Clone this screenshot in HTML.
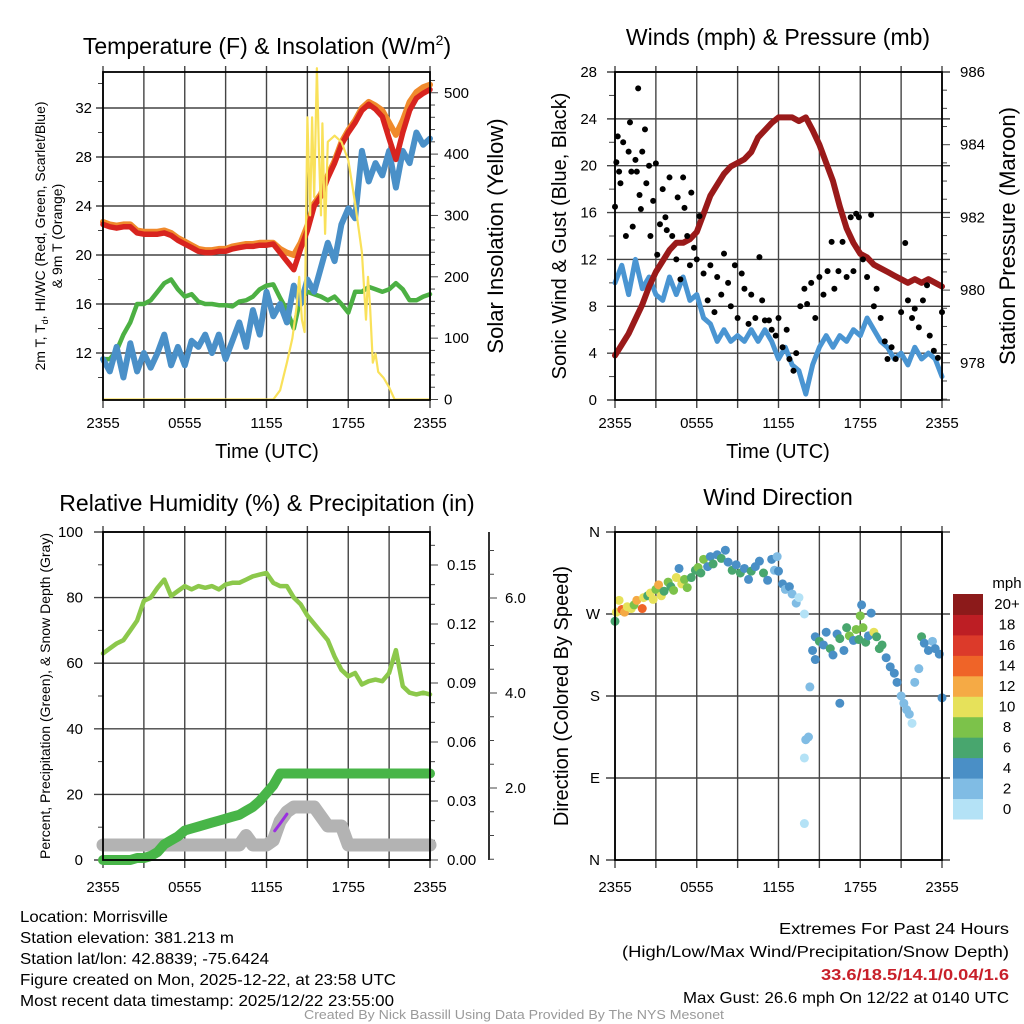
<!DOCTYPE html>
<html><head><meta charset="utf-8"><style>
html,body{margin:0;padding:0;background:#fff;}
svg{display:block;font-family:"Liberation Sans",sans-serif;}
</style></head><body>
<svg id="chart" width="1024" height="1024" viewBox="0 0 1024 1024">
<rect x="0" y="0" width="1024" height="1024" fill="#fff"/>
<text x="267" y="54" font-size="23" text-anchor="middle">Temperature (F) &amp; Insolation (W/m<tspan font-size="14" dy="-9">2</tspan><tspan dy="9">)</tspan></text>
<text x="778" y="45" font-size="23" text-anchor="middle">Winds (mph) &amp; Pressure (mb)</text>
<text x="267" y="511" font-size="23" text-anchor="middle">Relative Humidity (%) &amp; Precipitation (in)</text>
<text x="778" y="505" font-size="23" text-anchor="middle">Wind Direction</text>
<text x="267" y="458" font-size="20" text-anchor="middle">Time (UTC)</text>
<text x="778" y="458" font-size="20" text-anchor="middle">Time (UTC)</text>
<text transform="translate(45,236) rotate(-90)" font-size="14" text-anchor="middle">2m T, T<tspan font-size="9" dy="3">d</tspan><tspan dy="-3">, HI/WC (Red, Green, Scarlet/Blue)</tspan></text>
<text transform="translate(62,236) rotate(-90)" font-size="14" text-anchor="middle">&amp; 9m T (Orange)</text>
<text transform="translate(503,236) rotate(-90)" font-size="22" text-anchor="middle">Solar Insolation (Yellow)</text>
<text transform="translate(566,236) rotate(-90)" font-size="20" text-anchor="middle">Sonic Wind &amp; Gust (Blue, Black)</text>
<text transform="translate(1015,236) rotate(-90)" font-size="22" text-anchor="middle">Station Pressure (Maroon)</text>
<text transform="translate(50,696) rotate(-90)" font-size="14" text-anchor="middle">Percent, Precipitation (Green), &amp; Snow Depth (Gray)</text>
<text transform="translate(568,696) rotate(-90)" font-size="20" text-anchor="middle">Direction (Colored By Speed)</text>
<g font-size="16">
<text x="20" y="922" textLength="148" lengthAdjust="spacingAndGlyphs">Location: Morrisville</text>
<text x="20" y="943" textLength="214" lengthAdjust="spacingAndGlyphs">Station elevation: 381.213 m</text>
<text x="20" y="964" textLength="249" lengthAdjust="spacingAndGlyphs">Station lat/lon: 42.8839; -75.6424</text>
<text x="20" y="985" textLength="376" lengthAdjust="spacingAndGlyphs">Figure created on Mon, 2025-12-22, at 23:58 UTC</text>
<text x="20" y="1006" textLength="374" lengthAdjust="spacingAndGlyphs">Most recent data timestamp: 2025/12/22 23:55:00</text>
</g>
<g font-size="16">
<text x="779" y="934" textLength="230" lengthAdjust="spacingAndGlyphs">Extremes For Past 24 Hours</text>
<text x="622" y="957" textLength="387" lengthAdjust="spacingAndGlyphs">(High/Low/Max Wind/Precipitation/Snow Depth)</text>
<text x="821" y="980" textLength="188" lengthAdjust="spacingAndGlyphs" fill="#c8202a" font-weight="bold">33.6/18.5/14.1/0.04/1.6</text>
<text x="683" y="1003" textLength="326" lengthAdjust="spacingAndGlyphs">Max Gust: 26.6 mph On 12/22 at 0140 UTC</text>
</g>
<text x="304" y="1019" font-size="12.5" fill="#9a9a9a" textLength="420" lengthAdjust="spacingAndGlyphs">Created By Nick Bassill Using Data Provided By The NYS Mesonet</text>
</svg>
<script>
const halfHours=[0,0.5,1,1.5,2,2.5,3,3.5,4,4.5,5,5.5,6,6.5,7,7.5,8,8.5,9,9.5,10,10.5,11,11.5,12,12.5,13,13.5,14,14.5,15,15.5,16,16.5,17,17.5,18,18.5,19,19.5,20,20.5,21,21.5,22,22.5,23,23.5,24];
const tickHours=[0,6,12,18,24];
const tickLabels=["2355","0555","1155","1755","2355"];
const temp2m=[22.5,22.3,22.2,22.3,22.3,21.8,21.7,21.7,21.7,21.8,21.6,21.2,20.9,20.6,20.3,20.2,20.2,20.3,20.3,20.5,20.6,20.7,20.7,20.8,20.8,20.9,20.2,19.5,18.8,20.5,22.0,24.0,24.8,26.3,27.5,29.0,30.0,30.8,31.8,32.3,31.9,31.3,29.5,27.8,30.0,31.8,32.8,33.2,33.5];
const temp9m=[22.7,22.5,22.4,22.5,22.5,22.0,21.9,21.9,21.9,22.0,21.8,21.4,21.1,20.8,20.5,20.4,20.4,20.5,20.5,20.7,20.8,20.9,20.9,21.0,21.0,21.0,20.5,20.2,20.0,21.0,22.4,24.2,25.0,26.5,27.7,29.2,30.2,31.0,32.0,32.5,32.2,31.8,30.8,29.8,31.0,32.5,33.3,33.7,33.9];
const dewpoint=[11.5,11.5,12.2,13.5,14.5,16.0,16.0,16.3,17.0,17.7,18.0,17.2,16.6,16.8,16.2,16.0,16.0,15.9,15.9,15.8,16.2,16.3,16.6,17.2,17.5,17.6,16.5,15.5,14.0,16.5,17.0,16.8,16.6,16.3,16.6,16.0,15.3,17.0,17.0,17.4,17.2,17.0,17.2,17.7,17.2,16.3,16.3,16.6,16.8];
const windChill=[11.5,10.5,12.5,10.0,12.8,10.5,12.0,10.8,12.0,13.5,11.0,12.5,11.0,13.0,12.5,13.5,12.0,13.5,11.5,13.0,14.5,12.5,15.5,13.5,17.0,15.0,16.0,14.5,17.5,16.0,18.0,17.0,19.0,21.0,19.5,22.5,23.8,23.0,28.5,26.0,27.5,26.5,28.5,25.5,28.5,27.5,30.0,29.0,29.5];
const solarHours=[0,12.5,13.0,13.5,13.9,14.2,14.4,14.6,14.8,15.0,15.2,15.35,15.5,15.7,15.85,16.0,16.1,16.3,16.5,17.0,17.5,18.0,18.5,19.0,19.3,19.45,19.6,19.8,20.0,20.2,20.6,21.0,21.4,24];
const solarVals=[0,0,15,60,100,150,200,130,110,460,300,460,330,540,400,300,450,270,420,430,420,390,320,240,130,200,150,60,75,45,35,20,0,0];
const windSpeed=[10,11.5,9,12,9.5,10.5,9,8.5,10.5,9,10.5,8.5,9,7,6.5,5,6,5,5.5,5,6,5,6,5,3.5,4.5,3,2.5,0.5,3,4.5,5.5,4.5,5.5,5,6,5.5,7,6,5,4.5,3.5,4,3,4.5,3.5,4,3.5,2];
const pressure=[978.2,978.5,978.8,979.2,979.6,980.1,980.5,980.8,981.1,981.3,981.3,981.4,981.6,982.1,982.6,982.9,983.2,983.4,983.5,983.6,983.8,984.2,984.4,984.6,984.75,984.75,984.75,984.65,984.75,984.4,984.0,983.5,983.0,982.3,981.7,981.3,981.0,980.9,980.7,980.6,980.5,980.4,980.3,980.2,980.3,980.2,980.3,980.2,980.1];
const gustHours=[0,0.1,0.2,0.3,0.4,0.6,0.8,1.0,1.1,1.2,1.3,1.5,1.6,1.7,1.8,1.9,2.0,2.2,2.3,2.5,2.6,2.8,3.0,3.1,3.3,3.5,3.7,3.8,4.0,4.2,4.5,4.6,4.8,5.0,5.1,5.3,5.5,5.6,5.8,6.0,6.2,6.5,6.8,7.0,7.3,7.5,7.8,8.0,8.3,8.5,8.8,9.0,9.3,9.5,9.8,10,10.3,10.6,10.8,11,11.3,11.5,11.8,12,12.3,12.6,12.8,13.1,13.3,13.6,13.9,14.1,14.4,14.7,15,15.3,15.6,15.9,16.1,16.4,16.7,17,17.3,17.5,17.7,17.9,18.2,18.5,18.8,19,19.2,19.5,19.8,20.0,20.3,20.6,21,21.3,21.5,21.8,22,22.3,22.6,22.9,23.1,23.4,23.7,24];
const gustVals=[16.5,20.3,22.5,19.5,18.5,22,14,21.2,23.7,19.5,14.8,20.5,19.5,26.6,17.5,16.3,21.2,23.1,18.5,20,14,17,20.2,12.4,15,18,15.6,14.5,19,14,12,17.3,10.3,19,16.4,14,11.5,17.7,13,12,15.7,10.8,8.5,11.5,7.5,10.5,9,12.5,10,8,11.5,7,10.8,9.5,6.5,9,7,12.2,8.5,6.8,6.8,6,5.5,7,4.5,6,3.5,2.5,4,8,9.5,8.2,10,7,10.5,9,11,13.5,9.5,11,13.5,10.5,15.6,11,15.9,15.6,12,10.5,15.8,8,9.5,7,5,3.5,4.5,3.5,7.5,13.4,8.5,7,7.8,6.2,8.5,9.8,5.5,4.2,3.6,7.5];
const relHumidity=[63,64.5,66,67,70,73,79,80,83,85.5,80.5,82,83.5,82.5,83.5,83,83.5,82.5,84,84.5,84.5,85.5,86.5,87,87.5,84.5,83.5,83.5,80,78,74.5,72,69.5,67,62,58,56,57,53.5,54.5,55,54.5,57,64,53,51,50.5,51,50.5];
const precip=[0,0,0,0,0,0.001,0.001,0.002,0.004,0.008,0.010,0.012,0.015,0.016,0.017,0.018,0.019,0.020,0.021,0.022,0.023,0.025,0.027,0.030,0.034,0.038,0.044,0.044,0.044,0.044,0.044,0.044,0.044,0.044,0.044,0.044,0.044,0.044,0.044,0.044,0.044,0.044,0.044,0.044,0.044,0.044,0.044,0.044,0.044];
const snowDepth=[0.8,0.8,0.8,0.8,0.8,0.8,0.8,0.8,0.8,0.8,0.8,0.8,0.8,0.8,0.8,0.8,0.8,0.8,0.8,0.8,0.8,1.0,0.8,0.8,0.8,0.9,1.3,1.5,1.6,1.6,1.6,1.6,1.4,1.2,1.2,1.2,0.8,0.8,0.8,0.8,0.8,0.8,0.8,0.8,0.8,0.8,0.8,0.8,0.8];
const purpleHours=[12.6,13.0,13.5];
const purpleVals=[1.1,1.25,1.45];
const dirHours=[0,0.1,0.3,0.5,0.7,0.9,1.2,1.4,1.6,2.0,2.1,2.4,2.6,2.8,3.0,3.2,3.4,3.6,3.9,4.1,4.3,4.5,4.7,4.9,5.1,5.3,5.6,5.9,6.1,6.3,6.5,6.8,7.0,7.2,7.5,7.8,8.1,8.3,8.6,8.9,9.2,9.5,9.8,10.0,10.3,10.6,10.9,11.2,11.5,11.7,11.9,12.0,12.3,12.5,12.8,13.0,13.3,13.5,13.9,14.5,14.7,15.0,15.3,15.5,15.8,16.0,16.3,16.5,16.8,17.0,17.2,17.5,17.7,17.9,18.0,18.2,18.4,18.6,18.8,19.0,19.2,19.4,19.6,19.9,20.2,20.5,20.7,21.0,21.2,21.4,21.6,21.8,22.0,22.3,22.5,22.7,23.0,23.3,23.5,23.8,24.0,14.0,14.2,13.9,13.9,16.5,18.1,14.3,14.7];
const dirDeg=[262,272,285,275,272,278,276,280,285,276,288,290,293,286,297,302,290,295,305,300,296,310,320,303,308,299,310,318,321,315,330,322,333,325,335,331,340,327,318,324,315,320,308,317,322,328,315,307,330,318,333,317,303,297,300,292,282,288,270,230,245,240,236,250,232,225,248,243,230,255,246,241,253,242,268,255,239,246,271,250,245,232,236,222,212,205,195,180,172,165,160,150,195,210,245,238,230,240,232,226,178,132,135,112,40,172,280,190,220];
const dirSpeed=[7,10,10,14,12,10,11,8,13,15,10,6,11,10,8,12,10,7,8,6,8,10,4,10,8,9,7,6,8,6,8,5,4,6,4,6,4,5,6,4,6,5,4,6,5,4,6,4,4,3,3,4,4,3,4,3,2,1,1,4,4,6,4,5,6,4,4,6,4,6,8,5,9,6,9,8,7,4,4,10,6,6,6,5,4,5,4,3,2,2,2,1,2,2,6,4,4,3,4,4,4,2,2,1,1,4,4,3,4];
const speedColors=["#b4e2f6","#80bce4","#4a8fc6","#48a66e","#7cc24a","#e6e15a","#f5aa45","#ef6428","#dc3a2a","#bd1e24","#8c1a1a"];
const speedLabels=["0","2","4","6","8","10","12","14","16","18","20+"];

const NS='http://www.w3.org/2000/svg';
const svg=document.getElementById('chart');
function mk(tag,attrs,name){
  const el=document.createElementNS(NS,tag);
  for(const k in attrs) el.setAttribute(k,attrs[k]);
  
  
  svg.appendChild(el);
  return el;
}
function txt(x,y,s,size,anchor,name){
  const el=mk('text',{x:x,y:y,'font-size':size,'text-anchor':anchor},name);
  el.textContent=s;
  return el;
}
function poly(xsArr,ysArr,xf,yf,color,w,name){
  const pts=xsArr.map((h,i)=>xf(h).toFixed(1)+','+yf(ysArr[i]).toFixed(1)).join(' ');
  return mk('polyline',{points:pts,fill:'none',stroke:color,'stroke-width':w,'stroke-linejoin':'round','stroke-linecap':'round'},name);
}
function xScale(x0,x1){return h=>x0+h/24*(x1-x0);}
function timeGrid(xf,yTop,yBot,labelY,prefix){
  for(let h=0;h<=24;h+=3){
    mk('line',{x1:xf(h),x2:xf(h),y1:yTop-6,y2:yBot+8,stroke:'#444','stroke-width':1.4},prefix+'-x-gridline');
  }
  tickHours.forEach((h,i)=>{txt(xf(h),labelY,tickLabels[i],15,'middle',prefix+'-x-tick-label');});
}
function hGrid(y,xa,xb,name){mk('line',{x1:xa,x2:xb,y1:y,y2:y,stroke:'#444','stroke-width':1.4},name);}
function tick(x1,x2,y,name){mk('line',{x1:x1,x2:x2,y1:y,y2:y,stroke:'#444','stroke-width':1},name);}
function frame(x0,y0,x1,y1,name){mk('rect',{x:x0,y:y0,width:x1-x0,height:y1-y0,fill:'none',stroke:'#000','stroke-width':1.8},name);}

/* ---------- Panel 1: temperature ---------- */
const x1f=xScale(103,430);
const tY=t=>304-(t-16)*12.25;
const sY=s=>399.5-s*0.6135;
timeGrid(x1f,72,400,428,'temp');
[12,16,20,24,28,32].forEach(t=>{hGrid(tY(t),96,430,'temp-y-gridline');txt(92,tY(t)+5,String(t),15,'end','temp-y-tick-label');});
[10,14,18,22,26,30,34].forEach(t=>tick(98,103,tY(t),'temp-y-minor-tick'));
for(let s=0;s<=520;s+=20){tick(430,s%100===0?438:435,sY(s),'solar-y-tick');}
[0,100,200,300,400,500].forEach(s=>txt(444,sY(s)+5,String(s),15,'start','solar-y-tick-label'));
poly(halfHours,dewpoint,x1f,tY,'#4cb043',4.5,'dewpoint-line');
poly(halfHours,windChill,x1f,tY,'#4a90c8',6,'wind-chill-line');
poly(halfHours,temp9m,x1f,tY,'#f08a2c',6,'temp-9m-line');
poly(halfHours,temp2m,x1f,tY,'#d8241f',5.5,'temp-2m-line');
poly(solarHours,solarVals,x1f,sY,'#f9e15a',2.2,'solar-insolation-line');
frame(103,72,430,400,'temp-plot-frame');

/* ---------- Panel 2: winds & pressure ---------- */
const x2f=xScale(615,942);
const wY=v=>400-v*11.714;
const pY=p=>72+(986-p)*36.35;
timeGrid(x2f,72,400,428,'wind');
[0,4,8,12,16,20,24,28].forEach(v=>{hGrid(wY(v),607,950,'wind-y-gridline');txt(597,wY(v)+5,String(v),15,'end','wind-y-tick-label');});
[2,6,10,14,18,22,26].forEach(v=>tick(609,615,wY(v),'wind-y-minor-tick'));
for(let p=977;p<=986;p+=0.5){tick(942,p%2===0?950:947,pY(p),'pressure-y-tick');}
[978,980,982,984,986].forEach(p=>txt(960,pY(p)+5,String(p),15,'start','pressure-y-tick-label'));
poly(halfHours,windSpeed,x2f,wY,'#4a95d2',5,'sonic-wind-line');
poly(halfHours,pressure,x2f,pY,'#9a1a1a',6,'pressure-line');
gustHours.forEach((h,i)=>{mk('circle',{cx:x2f(h),cy:wY(gustVals[i]),r:3,fill:'#000'},'gust-point');});
frame(615,72,942,400,'wind-plot-frame');

/* ---------- Panel 3: RH & precip ---------- */
const x3f=xScale(103,430);
const rY=p=>860-p*3.28;
const prY=v=>860-v*1966.7;
const snY=d=>883-d*47.5;
timeGrid(x3f,532,860,892,'rh');
[0,20,40,60,80,100].forEach(v=>{hGrid(rY(v),94,430,'rh-y-gridline');txt(83,rY(v)+5,String(v),15,'end','rh-y-tick-label');});
[10,30,50,70,90].forEach(v=>tick(98,103,rY(v),'rh-y-minor-tick'));
for(let k=0;k<=16;k++){tick(430,k%3===0?438:435,prY(k*0.01),'precip-y-tick');}
["0.00","0.03","0.06","0.09","0.12","0.15"].forEach((s,i)=>txt(447,prY(i*0.03)+5,s,15,'start','precip-y-tick-label'));
mk('line',{x1:489,x2:489,y1:532,y2:860,stroke:'#000','stroke-width':1.6},'snow-axis-line');
for(let d=0.5;d<=7;d+=0.5){if(snY(d)>=532) tick(489,d%2===0?497:494,snY(d),'snow-y-tick');}
["2.0","4.0","6.0"].forEach((s,i)=>txt(505,snY((i+1)*2)+5,s,15,'start','snow-y-tick-label'));
poly(halfHours,snowDepth,x3f,snY,'#b3b3b3',13,'snow-depth-line');
poly(halfHours,precip,x3f,prY,'#48b548',10,'precipitation-line');
poly(halfHours,relHumidity,x3f,rY,'#8cc84b',4.5,'relative-humidity-line');
poly(purpleHours,purpleVals,x3f,snY,'#9b30e0',3,'snow-purple-segment');
frame(103,532,430,860,'rh-plot-frame');

/* ---------- Panel 4: wind direction ---------- */
const x4f=xScale(615,942);
const dY=d=>860-d*0.9111;
timeGrid(x4f,532,860,892,'dir');
[[0,'N'],[90,'E'],[180,'S'],[270,'W'],[360,'N']].forEach(a=>{hGrid(dY(a[0]),606,950,'dir-y-gridline');txt(600,dY(a[0])+5,a[1],15,'end','dir-y-tick-label');});
dirHours.forEach((h,i)=>{
  const b=Math.min(10,Math.floor(dirSpeed[i]/2));
  mk('circle',{cx:x4f(h),cy:dY(dirDeg[i]),r:4.5,fill:speedColors[b]},'wind-direction-point');
});
frame(615,532,942,860,'dir-plot-frame');
const cbTop=594,cbH=225/11;
speedColors.forEach((c,i)=>{
  const y=cbTop+(10-i)*cbH;
  mk('rect',{x:953,y:y,width:30,height:cbH+0.5,fill:c},'colorbar-bin');
  txt(1007,y+cbH/2+5,speedLabels[i],15,'middle','colorbar-label');
});
txt(1007,588,'mph',15,'middle','colorbar-title');
</script>
</body></html>
